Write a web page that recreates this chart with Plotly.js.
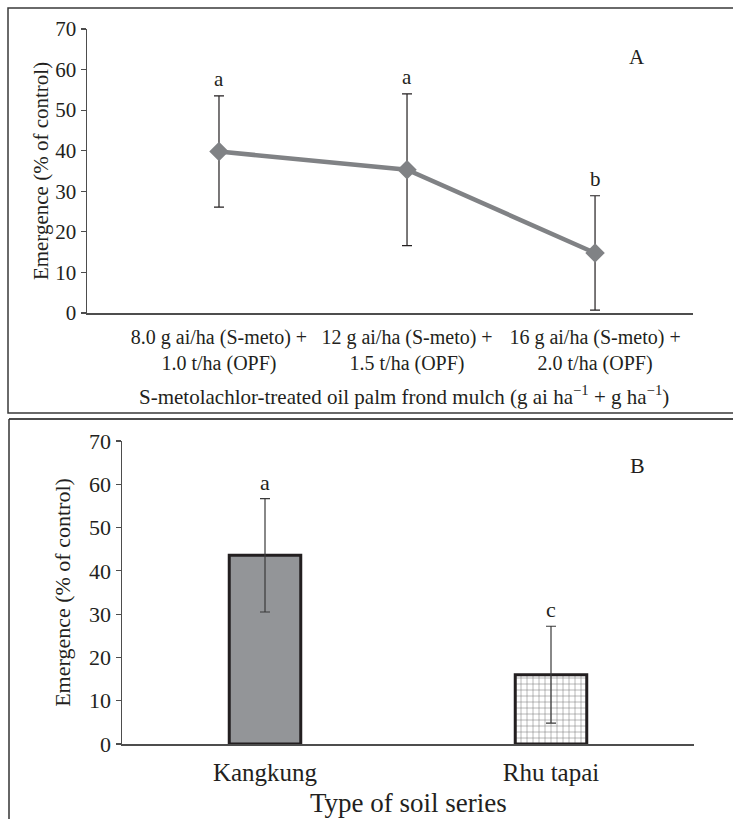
<!DOCTYPE html>
<html>
<head>
<meta charset="utf-8">
<script src="https://cdn.plot.ly/plotly-3.0.1.min.js"></script>
<style>html,body{margin:0;padding:0;background:#fff}#chart{width:733px;height:819px}</style>
</head>
<body>
<div id="chart"></div>
<script>
// Panel A data
const treatments = ["8.0 g ai/ha (S-meto) +<br>1.0 t/ha (OPF)", "12 g ai/ha (S-meto) +<br>1.5 t/ha (OPF)", "16 g ai/ha (S-meto) +<br>2.0 t/ha (OPF)"];
const treatmentPos = [0, 1, 2];
const emergenceA = [39.8, 35.3, 14.8];
const errorA = [13.7, 18.7, 14.1];
const lettersA = ["a", "a", "b"];

// Panel B data
const soils = ["Kangkung", "Rhu tapai"];
const emergenceB = [43.6, 16.0];
const errorB = [13.1, 11.2];
const lettersB = ["a", "c"];

const W = 733, H = 819;
const px = x => x / W;
const py = y => 1 - y / H;
const FONT = "'Liberation Serif', 'Times New Roman', Times, serif";
const TXT = "#231f20";
const FS_A = 21, FS_B = 22, FS_BX = 25;

const traces = [
  {
    type: "scatter", mode: "lines+markers",
    x: treatmentPos, y: emergenceA,
    xaxis: "x", yaxis: "y",
    line: {color: "#808285", width: 4.5},
    marker: {symbol: "diamond", size: 15, color: "#808285"},
    error_y: {type: "data", array: errorA, visible: true, color: "#231f20", thickness: 1.2, width: 5},
    showlegend: false, hoverinfo: "skip"
  },
  {
    type: "bar",
    x: [soils[0]], y: [emergenceB[0]],
    xaxis: "x2", yaxis: "y2",
    width: 0.25,
    marker: {color: "#939598", line: {color: "#231f20", width: 3}},
    error_y: {type: "data", array: [errorB[0]], visible: true, color: "#3a3a3a", thickness: 1.2, width: 5},
    showlegend: false, hoverinfo: "skip"
  },
  {
    type: "bar",
    x: [soils[1]], y: [emergenceB[1]],
    xaxis: "x2", yaxis: "y2",
    width: 0.25,
    marker: {
      color: "#ffffff", line: {color: "#231f20", width: 3},
      pattern: {shape: "+", fgcolor: "#777777", bgcolor: "#ffffff", size: 6, solidity: 0.17, fillmode: "replace"}
    },
    error_y: {type: "data", array: [errorB[1]], visible: true, color: "#3a3a3a", thickness: 1.2, width: 5},
    showlegend: false, hoverinfo: "skip"
  }
];

const annotations = [];
treatmentPos.forEach((x, i) => {
  annotations.push({x: x, y: emergenceA[i] + errorA[i], xref: "x", yref: "y", text: lettersA[i],
    showarrow: false, yanchor: "bottom", yshift: 3, font: {family: FONT, size: FS_A, color: TXT}});
});
soils.forEach((s, i) => {
  annotations.push({x: s, y: emergenceB[i] + errorB[i], xref: "x2", yref: "y2", text: lettersB[i],
    showarrow: false, yanchor: "bottom", yshift: 2, font: {family: FONT, size: FS_B, color: TXT}});
});
const paperNote = (x, y, text, size) => ({x: px(x), y: py(y), xref: "paper", yref: "paper", text: text,
  showarrow: false, xanchor: "center", yanchor: "middle", font: {family: FONT, size: size, color: TXT}});
annotations.push(paperNote(637, 57, "A", FS_A));
annotations.push(paperNote(637, 465, "B", FS_B));
annotations.push(paperNote(404, 395,
  "S-metolachlor-treated oil palm frond mulch (g ai ha<sup>\u22121</sup> + g ha<sup>\u22121</sup>)", FS_A));
annotations.push(paperNote(408, 803, "Type of soil series", 27));

const yax = (dom, fs, standoff) => ({
  domain: dom, range: [0, 70], dtick: 10, showgrid: false, zeroline: false,
  showline: true, linecolor: "#4d4d4d", linewidth: 1.5,
  ticks: "outside", ticklen: 5, tickwidth: 1.2, tickcolor: "#4d4d4d",
  tickfont: {family: FONT, size: fs, color: TXT}, fixedrange: true,
  title: {text: "Emergence (% of control)", font: {family: FONT, size: fs, color: TXT}, standoff: standoff}
});

const layout = {
  width: W, height: H,
  margin: {l: 0, r: 0, t: 0, b: 0},
  paper_bgcolor: "#ffffff", plot_bgcolor: "#ffffff",
  font: {family: FONT, size: FS_A, color: TXT},
  showlegend: false, barmode: "overlay",
  xaxis: {
    domain: [px(87), px(693)], range: [-0.702, 2.521],
    tickmode: "array", tickvals: treatmentPos, ticktext: treatments,
    showgrid: false, zeroline: false, showline: true, linecolor: "#4d4d4d", linewidth: 1.5,
    ticks: "outside", ticklen: 5, tickcolor: "rgba(0,0,0,0)",
    tickfont: {family: FONT, size: 20, color: TXT}, anchor: "y", fixedrange: true
  },
  yaxis: Object.assign(yax([py(313), py(29)], FS_A, 1), {anchor: "x"}),
  xaxis2: {
    domain: [px(122), px(694)], type: "category", categoryorder: "array", categoryarray: soils,
    showgrid: false, zeroline: false, showline: true, linecolor: "#4d4d4d", linewidth: 1.5,
    ticks: "outside", ticklen: 5, tickcolor: "rgba(0,0,0,0)",
    tickfont: {family: FONT, size: FS_BX, color: TXT}, anchor: "y2", fixedrange: true
  },
  yaxis2: Object.assign(yax([py(744), py(441)], FS_B, 12), {anchor: "x2"}),
  annotations: annotations,
  shapes: [
    {type: "rect", xref: "paper", yref: "paper", x0: px(8), x1: px(740), y0: py(413), y1: py(8),
      line: {color: "#3a3a3a", width: 1.5}},
    {type: "line", xref: "paper", yref: "paper", x0: px(9), x1: px(740), y0: py(419), y1: py(419),
      line: {color: "#111111", width: 1.5}},
    {type: "line", xref: "paper", yref: "paper", x0: px(9), x1: px(9), y0: py(419), y1: py(830),
      line: {color: "#333333", width: 1.5}}
  ]
};

const draw = () => Plotly.newPlot("chart", traces, layout, {displayModeBar: false, staticPlot: true});
if (document.fonts && document.fonts.load) {
  document.fonts.load("18px 'Liberation Serif'").then(draw, draw);
} else {
  draw();
}
</script>
</body>
</html>
